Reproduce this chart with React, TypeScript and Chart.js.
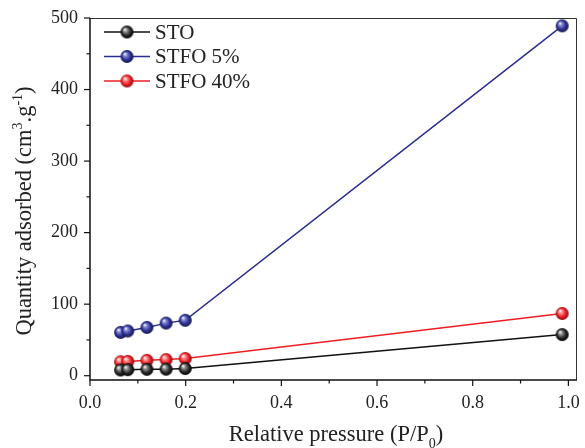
import React, { useEffect, useRef } from "react";
import { Chart, registerables } from "chart.js";

Chart.register(...registerables);

const pressure = [0.064, 0.079, 0.119, 0.159, 0.199, 0.987];
const stoValues = [8, 8.5, 9, 9.2, 10, 57.5];
const stfo5Values = [60.5, 62.5, 67.5, 73.5, 77.5, 489];
const stfo40Values = [19.5, 20, 21.5, 22.5, 24, 87];
const seriesNames = ["STO", "STFO 5%", "STFO 40%"];
const xTicks = [0, 0.2, 0.4, 0.6, 0.8, 1.0];
const yTicks = [0, 100, 200, 300, 400, 500];

const FONT = "'Liberation Serif', 'Times New Roman', serif";

function sphere(color: string, light: string, dark: string, r: number) {
  const c = document.createElement("canvas");
  const s = Math.ceil(r * 2) + 2;
  c.width = s;
  c.height = s;
  const ctx = c.getContext("2d")!;
  const cx = s / 2, cy = s / 2;
  const g = ctx.createRadialGradient(cx - r * 0.35, cy - r * 0.4, r * 0.05, cx, cy, r);
  g.addColorStop(0, "#ffffff");
  g.addColorStop(0.22, light);
  g.addColorStop(0.65, color);
  g.addColorStop(1, dark);
  ctx.fillStyle = g;
  ctx.beginPath();
  ctx.arc(cx, cy, r, 0, Math.PI * 2);
  ctx.fill();
  return c;
}

type Seg = { t: string; s?: "sub" | "sup" };

function richWidth(ctx: CanvasRenderingContext2D, segs: Seg[], base: number, small: number) {
  let w = 0;
  for (const sg of segs) {
    ctx.font = `${sg.s ? small : base}px ${FONT}`;
    w += ctx.measureText(sg.t).width;
  }
  return w;
}

function drawRich(ctx: CanvasRenderingContext2D, segs: Seg[], cx: number, baseline: number, base: number, small: number) {
  const w = richWidth(ctx, segs, base, small);
  let x = cx - w / 2;
  ctx.textAlign = "left";
  ctx.textBaseline = "alphabetic";
  for (const sg of segs) {
    ctx.font = `${sg.s ? small : base}px ${FONT}`;
    const dy = sg.s === "sub" ? base * 0.3 : sg.s === "sup" ? -base * 0.42 : 0;
    ctx.fillText(sg.t, x, baseline + dy);
    x += ctx.measureText(sg.t).width;
  }
}

export default function App() {
  const ref = useRef<HTMLCanvasElement>(null);
  useEffect(() => {
    document.body.style.margin = "0";
    const colors = ["#111111", "#2b2e8f", "#ee1d24"];
    const spheres = [
      sphere("#2a2a2a", "#9a9a9a", "#000000", 6.5),
      sphere("#2e3192", "#8a8ed8", "#14164a", 6.5),
      sphere("#ee1d24", "#ff9a9a", "#8a0a0e", 6.5),
    ];
    const series = [stoValues, stfo5Values, stfo40Values];

    const deco = {
      id: "deco",
      afterDraw(chart: any) {
        const ctx = chart.ctx as CanvasRenderingContext2D;
        const a = chart.chartArea;
        const xs = chart.scales.x, ys = chart.scales.y;
        ctx.save();
        // frame
        ctx.strokeStyle = "#333";
        ctx.lineWidth = 1;
        ctx.beginPath();
        ctx.moveTo(a.left, a.top + 0.5);
        ctx.lineTo(a.right - 0.5, a.top + 0.5);
        ctx.lineTo(a.right - 0.5, a.bottom);
        ctx.stroke();
        ctx.strokeStyle = "#111";
        ctx.lineWidth = 1.5;
        ctx.beginPath();
        ctx.moveTo(a.left, a.top);
        ctx.lineTo(a.left, a.bottom);
        ctx.lineTo(a.right, a.bottom);
        ctx.stroke();
        // ticks
        ctx.lineWidth = 1.2;
        for (let v = 0; v <= 1.0001; v += 0.1) {
          const px = xs.getPixelForValue(v);
          const major = Math.round(v * 10) % 2 === 0;
          ctx.beginPath();
          ctx.moveTo(px, a.bottom);
          ctx.lineTo(px, a.bottom + (major ? 6 : 3.5));
          ctx.stroke();
        }
        for (let v = 0; v <= 500; v += 50) {
          const py = ys.getPixelForValue(v);
          const major = v % 100 === 0;
          ctx.beginPath();
          ctx.moveTo(a.left, py);
          ctx.lineTo(a.left - (major ? 6 : 3.5), py);
          ctx.stroke();
        }
        // legend
        for (let i = 0; i < 3; i++) {
          const y = 32 + i * 24.5;
          ctx.strokeStyle = colors[i];
          ctx.lineWidth = 1.5;
          ctx.beginPath();
          ctx.moveTo(104, y);
          ctx.lineTo(150, y);
          ctx.stroke();
          const sp = spheres[i];
          ctx.drawImage(sp, 127 - sp.width / 2, y - sp.height / 2);
          ctx.fillStyle = "#222";
          ctx.font = `21px ${FONT}`;
          ctx.textAlign = "left";
          ctx.textBaseline = "middle";
          ctx.fillText(seriesNames[i], 155, y + 1);
        }
        // titles
        ctx.fillStyle = "#222";
        drawRich(ctx, [{ t: "Relative pressure (P/P" }, { t: "0", s: "sub" }, { t: ")" }], 336, 441, 22.5, 14);
        ctx.translate(31, 211);
        ctx.rotate(-Math.PI / 2);
        drawRich(
          ctx,
          [{ t: "Quantity adsorbed (cm" }, { t: "3", s: "sup" }, { t: ".g" }, { t: "-1", s: "sup" }, { t: ")" }],
          0,
          0,
          22.5,
          14
        );
        ctx.restore();
      },
    };

    const chart = new Chart(ref.current!, {
      type: "line",
      data: {
        datasets: series.map((vals, i) => ({
          label: seriesNames[i],
          data: pressure.map((p, j) => ({ x: p, y: vals[j] })),
          borderColor: colors[i],
          borderWidth: 1.5,
          pointStyle: spheres[i] as any,
          pointRadius: 6.5,
          tension: 0,
        })),
      },
      options: {
        animation: false,
        responsive: false,
        layout: { padding: { top: 18, right: 3, left: 0, bottom: 0 } },
        plugins: { legend: { display: false }, tooltip: { enabled: false } },
        scales: {
          x: {
            type: "linear",
            min: 0,
            max: 1.018,
            afterBuildTicks: (s: any) => {
              s.ticks = xTicks.map((v) => ({ value: v }));
            },
            afterFit: (s: any) => {
              s.height = 68;
              s.paddingLeft = 0;
              s.paddingRight = 0;
            },
            grid: { display: false },
            border: { display: false },
            ticks: {
              color: "#222",
              font: { family: FONT, size: 18 },
              padding: 4,
              maxRotation: 0,
              callback: (v: any) => Number(v).toFixed(1),
            },
          },
          y: {
            type: "linear",
            min: -6,
            max: 500,
            afterBuildTicks: (s: any) => {
              s.ticks = yTicks.map((v) => ({ value: v }));
            },
            afterFit: (s: any) => {
              s.width = 90;
              s.paddingTop = 0;
              s.paddingBottom = 0;
            },
            grid: { display: false },
            border: { display: false },
            ticks: {
              color: "#222",
              font: { family: FONT, size: 18 },
              padding: 4,
              callback: (v: any) => String(v),
            },
          },
        },
      },
      plugins: [deco],
    });
    return () => chart.destroy();
  }, []);
  return <canvas ref={ref} width={585} height={448} style={{ display: "block" }} />;
}
